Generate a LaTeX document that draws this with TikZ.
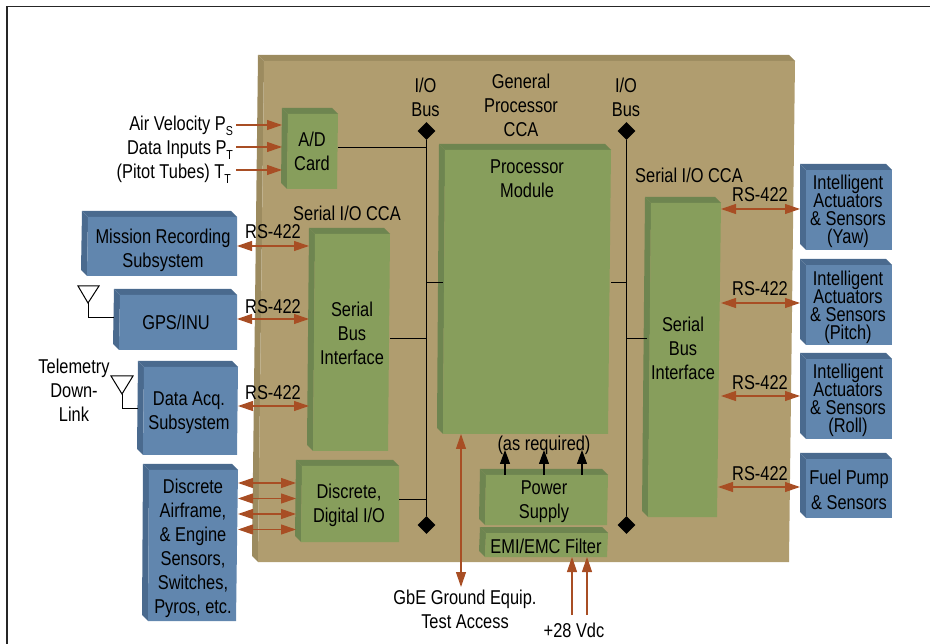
\documentclass[tikz,border=0pt]{standalone}
\usepackage{fontspec}
\setmainfont[FakeStretch=0.82]{Liberation Sans}
\usetikzlibrary{arrows.meta,shapes.geometric}
\definecolor{boardF}{HTML}{B09D6F}
\definecolor{boardB}{HTML}{9C8B5F}
\definecolor{greenF}{HTML}{879E5C}
\definecolor{greenB}{HTML}{6E8550}
\definecolor{blueF}{HTML}{6186AE}
\definecolor{blueB}{HTML}{4A6A8E}
\definecolor{rust}{HTML}{A84E24}
% colour prefix, name, xTL, xTR, xBL, xBR, yT, yB
\newcommand{\bev}[8]{%
  \fill[#1B] ({#3-6},{#7-6}) -- ({#4-6},{#7-6}) -- (#4,#7) -- (#3,#7) -- cycle;
  \fill[#1B] ({#3-6},{#7-6}) -- (#3,#7) -- (#5,#8) -- ({#5-6},{#8-6}) -- cycle;
  \fill[#1F] (#3,#7) -- (#4,#7) -- (#6,#8) -- (#5,#8) -- cycle;
  \node[inner sep=0pt,outer sep=0pt,minimum width={(#4-#3+6)*1pt},minimum height={(#8-#7+6)*1pt}] (#2) at ({(#3-6+#4)/2},{(#7-6+#8)/2}) {};
}
\tikzset{
  x=1pt,y=-1pt,
  lbl/.style={inner sep=0pt,outer sep=0pt,align=center,yshift=-0.5pt,font=\fontsize{20}{24}\selectfont},
  tight/.style={inner sep=0pt,outer sep=0pt,align=center,yshift=-0.5pt,font=\fontsize{20}{18}\selectfont},
  one/.style={inner sep=0pt,outer sep=0pt,anchor=base,yshift=-0.5pt,font=\fontsize{20}{24}\selectfont},
  side/.style={inner sep=0pt,outer sep=0pt,anchor=base east,yshift=-0.5pt,font=\fontsize{20}{24}\selectfont},
  buswire/.style={draw=black,line width=1.1pt},
  busend/.style={diamond,fill=black,inner sep=0pt,minimum width=18pt,minimum height=18pt},
  dbl/.style={draw=rust,line width=1.2pt,arrows={Triangle[length=15pt,width=10pt]-Triangle[length=15pt,width=10pt]}},
  sgl/.style={draw=rust,line width=1.2pt,arrows={-Triangle[length=15pt,width=10pt]}},
  pwr/.style={draw=black,line width=1.2pt,arrows={-Triangle[length=14pt,width=10pt]}},
  ant/.style={draw=black,line width=1pt},
}
\newcommand{\sbs}[1]{\raisebox{-5pt}{\fontsize{13}{13}\selectfont #1}}
\begin{document}
\begin{tikzpicture}
\useasboundingbox (0,0) rectangle (930,644);
\coordinate (fa) at (7,644);
\coordinate (fb) at (7,6.5);
\coordinate (fc) at (930,6.5);
\draw[line width=1.2pt,draw=black!85] (fa) -- (fb) -- (fc);
% board
\bev{board}{board}{264}{795}{258}{789}{61}{562}
% green blocks
\bev{green}{ad}{288}{338}{287}{337}{114}{189}
\bev{green}{serL}{315}{390}{313}{388}{234}{451}
\bev{green}{dio}{302}{399}{301}{399}{466}{542}
\bev{green}{proc}{445}{611}{443}{608}{150}{434}
\bev{green}{ps}{486}{608}{485}{607}{475}{525}
\bev{green}{emi}{486}{608}{485}{607}{533}{557}
\bev{green}{serR}{651}{721}{648}{717}{203}{517}
% blue blocks
\bev{blue}{mis}{88}{237}{87}{237}{217}{276}
\bev{blue}{gps}{120}{237}{119}{237}{295}{350}
\bev{blue}{daq}{144}{238}{143}{237}{367}{455}
\bev{blue}{disc}{149}{238}{148}{236}{470}{621}
\bev{blue}{yaw}{806}{892}{806}{892}{170}{250}
\bev{blue}{pitch}{806}{892}{806}{892}{265}{345}
\bev{blue}{roll}{806}{892}{806}{892}{359}{439}
\bev{blue}{fuel}{806}{892}{806}{892}{459}{518}
% buses
\node[busend] (lt) at (426.5,131) {};
\node[busend] (lb) at (426.5,525) {};
\node[busend] (rt) at (626.5,131) {};
\node[busend] (rb) at (626.5,525) {};
\draw[buswire] (lt) -- (lb);
\draw[buswire] (rt) -- (rb);
\draw[buswire] (ad.east |- 0,147.5) -- (lt |- 0,147.5);
\draw[buswire] (lt |- 0,282.5) -- ([xshift=4pt]proc.west |- 0,282.5);
\draw[buswire] (serL.east |- 0,338.5) -- (lt |- 0,338.5);
\draw[buswire] (dio.east |- 0,499.5) -- (lt |- 0,499.5);
\draw[buswire] (proc.east |- 0,282.5) -- (rt |- 0,282.5);
\draw[buswire] (rt |- 0,338.5) -- ([xshift=2pt]serR.west |- 0,338.5);
% sensor inputs
\coordinate (inA) at (236,125);
\coordinate (inB) at (236,147);
\coordinate (inC) at (236,170);
\draw[sgl] (inA) -- (ad.west |- inA);
\draw[sgl] (inB) -- (ad.west |- inB);
\draw[sgl] (inC) -- (ad.west |- inC);
% left RS-422
\draw[dbl] (mis.east |- 0,246) -- (serL.west |- 0,246);
\draw[dbl] (gps.east |- 0,319) -- (serL.west |- 0,319);
\draw[dbl] (daq.east |- 0,406) -- (serL.west |- 0,406);
\draw[dbl] (disc.east |- 0,483) -- (dio.west |- 0,483);
\draw[dbl] (disc.east |- 0,498.5) -- (dio.west |- 0,498.5);
\draw[dbl] (disc.east |- 0,514) -- (dio.west |- 0,514);
\draw[dbl] (disc.east |- 0,529.5) -- (dio.west |- 0,529.5);
% right RS-422
\draw[dbl] (serR.east |- 0,209) -- (yaw.west |- 0,209);
\draw[dbl] (serR.east |- 0,303) -- (pitch.west |- 0,303);
\draw[dbl] (serR.east |- 0,396) -- (roll.west |- 0,396);
\draw[dbl] ([xshift=-3pt]serR.east |- 0,487) -- (fuel.west |- 0,487);
% power
\coordinate (upA) at (505,450);
\coordinate (upB) at (544,450);
\coordinate (upC) at (582,450);
\draw[pwr] (ps.north -| upA) ++(0,6) -- (upA);
\draw[pwr] (ps.north -| upB) ++(0,6) -- (upB);
\draw[pwr] (ps.north -| upC) ++(0,6) -- (upC);
% ground access, 28 V
\coordinate (gbe) at (461,587);
\draw[dbl] (proc.south -| gbe) -- (gbe);
\coordinate (vA) at (572,615);
\coordinate (vB) at (587,615);
\draw[sgl] (vA) -- (emi.south -| vA);
\draw[sgl] (vB) -- (emi.south -| vB);
% antennas
\coordinate (a1) at (88,303);
\draw[ant] (78,286) -- (99,286) -- (a1) -- cycle;
\draw[ant] (a1) |- (gps.west |- 0,318);
\coordinate (a2) at (122,394);
\draw[ant] (111,376) -- (133,376) -- (a2) -- cycle;
\draw[ant] (a2) |- (daq.west |- 0,409);
% text
\node[side] (t1) at (233,130) {Air Velocity P\sbs{S}};
\node[side] (t2) at (233,154) {Data Inputs P\sbs{T}};
\node[side] (t3) at (231,178) {(Pitot Tubes) T\sbs{T}};
\node[lbl] (iol) at (425.5,96.8) {I/O\\Bus};
\node[lbl] (ior) at (626,96.8) {I/O\\Bus};
\node[lbl] (gen) at (521,105.3) {General\\Processor\\CCA};
\node[lbl] (pmt) at (527,177.8) {Processor\\Module};
\node[one] (scl) at (347,220) {Serial I/O CCA};
\node[one] (scr) at (689,182) {Serial I/O CCA};
\node[one] (r1) at (273,238) {RS-422};
\node[one] (r2) at (273,313) {RS-422};
\node[one] (r3) at (273,399) {RS-422};
\node[one] (r4) at (760,201) {RS-422};
\node[one] (r5) at (760,295) {RS-422};
\node[one] (r6) at (760,389) {RS-422};
\node[one] (r7) at (760,480) {RS-422};
\node[lbl] (adt) at (312,150.8) {A/D\\Card};
\node[lbl] (mist) at (163,249.8) {Mission Recording\\Subsystem};
\node[one] (gpst) at (176,329) {GPS/INU};
\node[lbl] (daqt) at (189,411.8) {Data Acq.\\Subsystem};
\node[lbl] (tel) at (74,389.3) {Telemetry\\Down-\\Link};
\node[lbl] (disct) at (193,547.8) {Discrete\\Airframe,\\\& Engine\\Sensors,\\Switches,\\Pyros, etc.};
\node[lbl] (sbl) at (352,332.8) {Serial\\Bus\\Interface};
\node[lbl] (sbr) at (683,348.3) {Serial\\Bus\\Interface};
\node[lbl] (diot) at (349,504.8) {Discrete,\\Digital I/O};
\node[one] (asr) at (544,450) {(as required)};
\node[lbl] (pst) at (544,500.8) {Power\\Supply};
\node[one] (emit) at (546,553) {EMI/EMC Filter};
\node[tight] (yawt) at (848,210.8) {Intelligent\\Actuators\\\& Sensors\\(Yaw)};
\node[tight] (pitt) at (848,307.3) {Intelligent\\Actuators\\\& Sensors\\(Pitch)};
\node[tight] (rolt) at (848,400.3) {Intelligent\\Actuators\\\& Sensors\\(Roll)};
\node[lbl,font=\fontsize{20}{25}\selectfont] (fut) at (849,489.3) {Fuel Pump\\\& Sensors};
\node[lbl] (gbt) at (465,609.3) {GbE Ground Equip.\\Test Access};
\node[one] (vdc) at (574,637) {+28 Vdc};
\end{tikzpicture}
\end{document}
